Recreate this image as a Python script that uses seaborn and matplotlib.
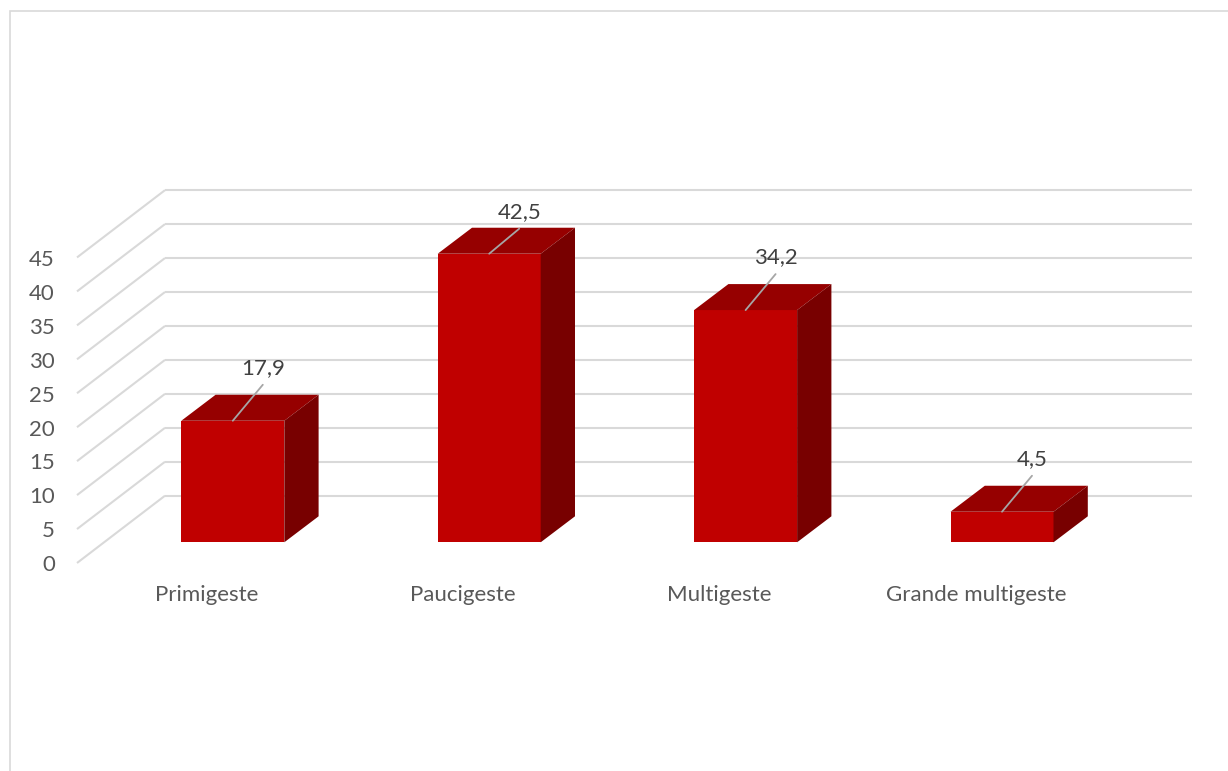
import matplotlib
matplotlib.use("Agg")
import matplotlib.pyplot as plt
import seaborn as sns
import pandas as pd
from matplotlib.patches import Polygon, Rectangle

categories = ["Primigeste", "Paucigeste", "Multigeste", "Grande multigeste"]
values = [17.9, 42.5, 34.2, 4.5]
y_ticks = [0, 5, 10, 15, 20, 25, 30, 35, 40, 45]

sns.set_style("white")
plt.rcParams["font.family"] = ["Lato", "DejaVu Sans"]

FRONT = "#C00000"
TOP = "#960000"
SIDE = "#780000"
GRID = "#D9D9D9"
TEXT = "#595959"
FS = 16

W, H = 1228, 771
fig = plt.figure(figsize=(W / 100, H / 100), dpi=100)
ax = fig.add_axes([0, 0, 1, 1])

# pixel mapping helpers (layout)
X0, XS = 232.8, 256.4   # pixel of category 0 centre, pixels per category
Y0, YS = 542.3, 6.79    # pixel row of value 0 (bar front), pixels per unit

df = pd.DataFrame({"cat": categories, "val": values})
sns.barplot(data=df, x="cat", y="val", color=FRONT, saturation=1,
            width=103 / XS, ax=ax, zorder=3, linewidth=0)

ax.set_xlim(-X0 / XS, (W - X0) / XS)
ax.set_ylim((Y0 - H) / YS, Y0 / YS)
ax.axis("off")

# depth vector of a bar (data units)
DX, DY = 34.3 / XS, 26.0 / YS
# floor / wall geometry
WALL_X0, WALL_X1 = (165 - X0) / XS, (1192 - X0) / XS
WALL_DY = (Y0 - 495.7) / YS
FRONT_X = (77 - X0) / XS
FRONT_DY = -(563 - Y0) / YS

for t in y_ticks:
    ax.plot([WALL_X0, WALL_X1], [t + WALL_DY, t + WALL_DY], color=GRID,
            lw=1.5, zorder=1, solid_capstyle="butt")
    ax.plot([FRONT_X, WALL_X0], [t + FRONT_DY, t + WALL_DY], color=GRID,
            lw=1.5, zorder=1, solid_capstyle="butt")
    ax.text((55 - X0) / XS, t + FRONT_DY - 2.3 / YS, str(t), ha="right",
            va="center", fontsize=FS, color=TEXT)

for p in ax.patches:
    x0 = p.get_x()
    w = p.get_width()
    h = p.get_height()
    x1 = x0 + w
    top = Polygon([(x0, h), (x1, h), (x1 + DX, h + DY), (x0 + DX, h + DY)],
                  closed=True, facecolor=TOP, edgecolor="none", zorder=3)
    side = Polygon([(x1, 0), (x1 + DX, DY), (x1 + DX, h + DY), (x1, h)],
                   closed=True, facecolor=SIDE, edgecolor="none", zorder=3)
    ax.add_patch(top)
    ax.add_patch(side)

LABEL_CAP = (Y0 - 211.7) / YS
for i, (c, v) in enumerate(zip(categories, values)):
    lx = i + 30 / XS
    ly = min(v + 53 / YS, LABEL_CAP)
    ax.plot([i, lx], [v, ly - 17 / YS], color="#A6A6A6", lw=1.3, zorder=4)
    ax.text(lx, ly, f"{v:.1f}".replace(".", ","), ha="center", va="center",
            fontsize=FS, color="#404040", zorder=5)
    ax.text(i - 26 / XS, (Y0 - 595) / YS, c, ha="center", va="center",
            fontsize=FS, color=TEXT)

fig.patches.append(Rectangle((10 / W, -0.05), 1.2, 1.05 - 11 / H,
                             transform=fig.transFigure, fill=False,
                             edgecolor=GRID, lw=1.2))

fig.savefig("out.png", dpi=100, facecolor="white")
